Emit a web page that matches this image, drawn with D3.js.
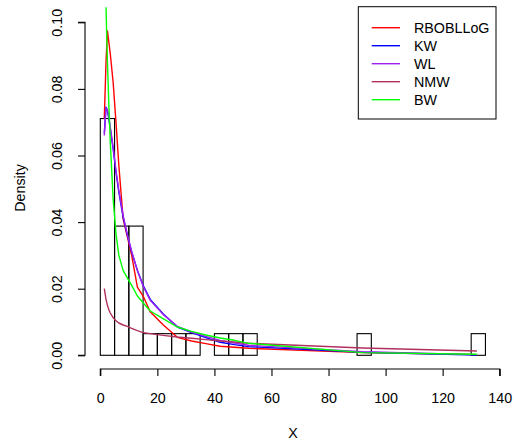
<!DOCTYPE html>
<html>
<head>
<meta charset="utf-8">
<script src="https://cdn.jsdelivr.net/npm/d3@7"></script>
<style>
  html, body { margin: 0; padding: 0; background: #fff; }
  svg { display: block; font-family: "Liberation Sans", Arial, Helvetica, sans-serif; }
</style>
</head>
<body>
<svg id="chart" width="514" height="445"></svg>
<script>
// Histogram: bin edges (width 5) and densities
const binStarts = d3.range(0, 135, 5);
const binDensity = [0.0711, 0.0388, 0.0388, 0.0065, 0.0065, 0.0065, 0.0065, 0,
                    0.0065, 0.0065, 0.0065, 0, 0, 0, 0, 0, 0, 0,
                    0.0065, 0, 0, 0, 0, 0, 0, 0, 0.0065];
const binWidth = 5;

// Fitted densities evaluated at the sorted sample points
const xPoints = [1.4, 2.0, 2.5, 3.0, 3.5, 4.5, 5.5, 6.5, 8.0, 9.5, 11, 13, 15, 17.5,
                 22, 27, 32, 37, 42, 47, 52, 92, 132];
const rbobllog = [0.071, 0.088, 0.0974, 0.094, 0.0905, 0.082, 0.070, 0.057, 0.041, 0.0355, 0.030, 0.0205, 0.0178, 0.0131,
                  0.0092, 0.0054, 0.0043, 0.0035, 0.0027, 0.0024, 0.0021, 0.0008, 0.0002];
const kw       = [0.0667, 0.0745, 0.0735, 0.071, 0.068, 0.062, 0.055, 0.049, 0.0415, 0.036, 0.031, 0.0255, 0.021, 0.0168,
                  0.0125, 0.0085, 0.0068, 0.0053, 0.0039, 0.0032, 0.0026, 0.0009, 0.0001];
const wl       = [0.0660, 0.0742, 0.0738, 0.0715, 0.0685, 0.0625, 0.0555, 0.0495, 0.042, 0.0362, 0.0312, 0.0255, 0.0208, 0.0165,
                  0.0123, 0.0087, 0.0070, 0.0057, 0.0045, 0.0037, 0.0030, 0.0011, 0.0002];
const nmw      = [0.0200, 0.0168, 0.0150, 0.0137, 0.0127, 0.0113, 0.0104, 0.0097, 0.0091, 0.0087, 0.0081, 0.0074, 0.0068, 0.0065,
                  0.0060, 0.0055, 0.0051, 0.0047, 0.0043, 0.0040, 0.0036, 0.0022, 0.0013];
const bw       = [null, 0.1045, 0.088, 0.075, 0.064, 0.047, 0.0365, 0.030, 0.0255, 0.0232, 0.021, 0.0178, 0.0158, 0.0133,
                  0.0110, 0.0085, 0.0072, 0.0061, 0.0052, 0.0045, 0.0036, 0.0008, 0.0003];

const seriesNames = ["RBOBLLoG", "KW", "WL", "NMW", "BW"];
const seriesValues = [rbobllog, kw, wl, nmw, bw];
const seriesColors = ["#ff0000", "#0000ff", "#a020f0", "#b03060", "#00ff00"];

const xTicks = [0, 20, 40, 60, 80, 100, 120, 140];
const yTicks = [0, 0.02, 0.04, 0.06, 0.08, 0.10];

const svg = d3.select("#chart");
const x = d3.scaleLinear().domain([0, 140]).range([100.3, 499.7]);
const y = d3.scaleLinear().domain([0, 0.1]).range([355.3, 22.3]);

// Plot region clip (R extends the data range by 4%)
svg.append("clipPath").attr("id", "plotClip")
  .append("rect")
  .attr("x", x(-5.4)).attr("y", y(0.1085))
  .attr("width", x(140.4) - x(-5.4))
  .attr("height", y(-0.0042) - y(0.1085));

// Histogram bars
svg.append("g")
  .selectAll("rect")
  .data(binStarts.map((s, i) => ({ s, d: binDensity[i] })))
  .join("rect")
  .attr("x", d => x(d.s))
  .attr("y", d => y(d.d))
  .attr("width", d => x(d.s + binWidth) - x(d.s))
  .attr("height", d => y(0) - y(d.d))
  .attr("fill", "none")
  .attr("stroke", "#000")
  .attr("stroke-width", 1.1);

// Density curves
const line = d3.line()
  .defined(d => d[1] != null)
  .x(d => x(d[0]))
  .y(d => y(d[1]));

const curves = svg.append("g").attr("clip-path", "url(#plotClip)");
seriesValues.forEach((vals, i) => {
  curves.append("path")
    .datum(xPoints.map((xv, j) => [xv, vals[j]]))
    .attr("d", line)
    .attr("fill", "none")
    .attr("stroke", seriesColors[i])
    .attr("stroke-width", 1.4)
    .attr("stroke-linejoin", "round");
});

// Axes
const xAxis = d3.axisBottom(x).tickValues(xTicks).tickSize(7).tickPadding(16.5)
  .tickFormat(d3.format("d"));
const gx = svg.append("g").attr("transform", "translate(0,369)").call(xAxis);
gx.select(".domain").attr("d", `M${x(0)},7V0H${x(140)}V7`);

const yAxis = d3.axisLeft(y).tickValues(yTicks).tickSize(7).tickFormat(d3.format(".2f"));
const gy = svg.append("g").attr("transform", "translate(85,0)").call(yAxis);
gy.select(".domain").attr("d", `M-7,${y(0)}H0V${y(0.1)}H-7`);
gy.selectAll(".tick text")
  .attr("x", null).attr("dy", null)
  .attr("text-anchor", "middle")
  .attr("transform", "translate(-28,0) rotate(-90)")
  .attr("dominant-baseline", "central");

svg.selectAll(".tick text").attr("font-size", 14.3).attr("fill", "#000")
  .attr("font-family", "'Liberation Sans', Arial, sans-serif");
svg.selectAll(".domain, .tick line").attr("stroke", "#000").attr("stroke-width", 1.1);

// Axis titles
svg.append("text").attr("x", 293).attr("y", 438)
  .attr("text-anchor", "middle").attr("font-size", 14.3).text("X");
svg.append("text")
  .attr("transform", "translate(25,188) rotate(-90)")
  .attr("text-anchor", "middle").attr("font-size", 14.3).text("Density");

// Legend
const legend = svg.append("g");
legend.append("rect")
  .attr("x", 358.3).attr("y", 6.7).attr("width", 137.7).attr("height", 112.3)
  .attr("fill", "#fff").attr("stroke", "#000").attr("stroke-width", 1);
seriesNames.forEach((name, i) => {
  const yy = 27.7 + i * 18;
  legend.append("line")
    .attr("x1", 371.7).attr("x2", 400).attr("y1", yy).attr("y2", yy)
    .attr("stroke", seriesColors[i]).attr("stroke-width", 1.4);
  legend.append("text")
    .attr("x", 414).attr("y", yy).attr("dominant-baseline", "central")
    .attr("font-size", 14.3).text(name);
});
</script>
</body>
</html>
